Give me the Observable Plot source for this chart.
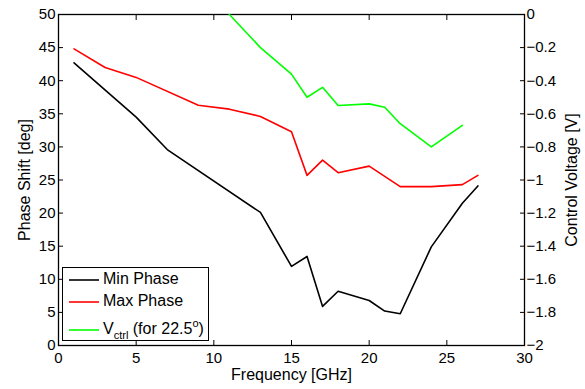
<!DOCTYPE html>
<html><head><meta charset="utf-8">
<script src="https://cdn.jsdelivr.net/npm/d3@7"></script>
<script src="https://cdn.jsdelivr.net/npm/@observablehq/plot@0.6"></script>
<style>
body{margin:0;background:#fff;font-family:"Liberation Sans",Arial,sans-serif;}
#wrap{position:relative;width:585px;height:389px;}
.legend{position:absolute;left:62px;top:267px;width:145px;height:72px;border:1.3px solid #000;background:#fff;font-size:16px;color:#000;}
.row{position:absolute;left:6px;height:20px;line-height:20px;white-space:nowrap;}
.row svg{vertical-align:middle;margin-right:4px;}
</style></head>
<body><div id="wrap"></div>
<script>
const minFreq = [1,5,7,13,15,16,17,18,20,21,22,24,26,27];
const minPhase = [42.7,34.5,29.6,20.1,11.95,13.45,5.9,8.2,6.8,5.2,4.8,14.9,21.5,24.1];
const maxFreq = [1,3,5,9,11,13,15,16,17,18,20,22,24,26,27];
const maxPhase = [44.8,42.0,40.5,36.3,35.7,34.6,32.3,25.7,28.0,26.1,27.1,24.0,24.0,24.3,25.7];
const vFreq = [11,13,15,16,17,18,20,21,22,24,26];
const vCtrl = [0,-0.2,-0.36,-0.5,-0.44,-0.55,-0.54,-0.56,-0.66,-0.80,-0.67];
const xTicks = [0,5,10,15,20,25,30];
const yTicks = [0,5,10,15,20,25,30,35,40,45,50];
const vTicks = [0,-0.2,-0.4,-0.6,-0.8,-1,-1.2,-1.4,-1.6,-1.8,-2];
const seriesNames = ["Min Phase","Max Phase","Vctrl (for 22.5°)"];
const colors = ["#000000","#ff0000","#00ff00"];

const minData = minFreq.map((f,i)=>({f, p:minPhase[i]}));
const maxData = maxFreq.map((f,i)=>({f, p:maxPhase[i]}));
const vData = vFreq.map((f,i)=>({f, v:vCtrl[i]}));
const vToDeg = v => (v + 2) * 25;
const fmtV = d => { const v = +(d/25 - 2).toFixed(1); return v === 0 ? "0" : String(v).replace("-", "\u2212"); };
const none = () => "";

const chart = Plot.plot({
  width:585, height:389,
  marginLeft:58, marginRight:61, marginTop:14, marginBottom:44,
  x:{domain:[0,30]},
  y:{domain:[0,50]},
  style:{fontFamily:'"Liberation Sans",Arial,sans-serif', fontSize:"16px", color:"#000", background:"#fff"},
  marks:[
    Plot.axisX({anchor:"bottom", ticks:xTicks, tickSize:0, tickPadding:7, fontSize:15, label:null}),
    Plot.axisX({anchor:"bottom", ticks:[], tickSize:0, label:"Frequency [GHz]", labelAnchor:"center", labelArrow:"none", labelOffset:34}),
    Plot.axisX({anchor:"bottom", ticks:xTicks, tickSize:-5, tickFormat:none, label:null}),
    Plot.axisX({anchor:"top", ticks:xTicks, tickSize:-5, tickFormat:none, label:null}),
    Plot.axisY({anchor:"left", ticks:yTicks, tickSize:0, tickPadding:3, fontSize:15, label:null}),
    Plot.axisY({anchor:"left", ticks:[], tickSize:0, label:"Phase Shift [deg]", labelAnchor:"center", labelArrow:"none", labelOffset:40}),
    Plot.axisY({anchor:"left", ticks:yTicks, tickSize:-5, tickFormat:none, label:null}),
    Plot.axisY({anchor:"right", ticks:vTicks.map(vToDeg), tickSize:-5, tickPadding:7, fontSize:15, tickFormat:fmtV, label:null}),
    Plot.axisY({anchor:"right", ticks:[], tickSize:0, label:"Control Voltage [V]", labelAnchor:"center", labelArrow:"none", labelOffset:52}),
    Plot.frame({stroke:"#000", strokeWidth:1.3}),
    Plot.line(minData, {x:"f", y:"p", stroke:colors[0], strokeWidth:1.6}),
    Plot.line(maxData, {x:"f", y:"p", stroke:colors[1], strokeWidth:1.6}),
    Plot.line(vData, {x:"f", y:d=>vToDeg(d.v), stroke:colors[2], strokeWidth:1.6})
  ]
});
const wrap = document.getElementById("wrap");
wrap.appendChild(chart);

const leg = document.createElement("div");
leg.className = "legend";
const tops = [1, 23, 45];
seriesNames.forEach((n,i)=>{
  const r = document.createElement("div");
  r.className = "row";
  r.style.top = tops[i] + "px";
  r.innerHTML = `<svg width="30" height="4"><line x1="0" x2="30" y1="2" y2="2" stroke="${colors[i]}" stroke-width="1.6"/></svg>`;
  const t = document.createElement("span");
  if (i === 2) t.innerHTML = 'V<sub style="font-size:11px;vertical-align:-5px">ctrl</sub> (for 22.5<sup style="font-size:11px;vertical-align:7px">o</sup>)';
  else t.textContent = n;
  r.appendChild(t);
  leg.appendChild(r);
});
wrap.appendChild(leg);
</script></body></html>
